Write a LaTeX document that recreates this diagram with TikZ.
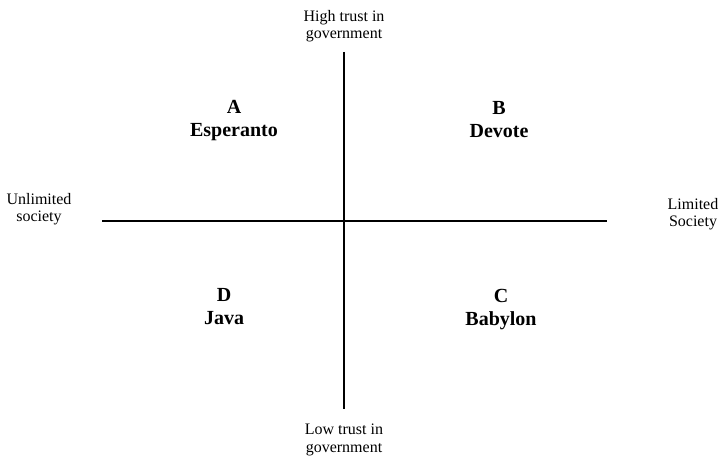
\documentclass[tikz,border=0pt]{standalone}
\usepackage{fontspec}
\setmainfont{Liberation Serif}
\usetikzlibrary{positioning}

\begin{document}
\begin{tikzpicture}[
  x=1pt, y=-1pt,
  axislabel/.style={font=\fontsize{16}{17.5}\selectfont, align=center, inner sep=0pt, anchor=north},
  quadlabel/.style={font=\fontsize{20}{23}\selectfont\bfseries, align=center, inner sep=0pt, anchor=north},
  axis/.style={line width=1.1pt, black}
]
\useasboundingbox (0,0) rectangle (720,457);

% axes
\coordinate (top) at (344,52);
\coordinate (bottom) at (344,409);
\coordinate (left) at (102,221);
\coordinate (right) at (607,221);
\draw[axis] (top) -- (bottom);
\draw[axis] (left) -- (right);

% axis labels
\node[axislabel] (high) at (344,10) {High trust in\\government};
\node[axislabel] (low) at (344,424) {Low trust in\\government};
\node[axislabel] (unlim) at (39,193) {Unlimited\\society};
\node[axislabel] (lim) at (693,198) {Limited\\Society};

% quadrants
\node[quadlabel] (qa) at (234,100) {A\\Esperanto};
\node[quadlabel] (qb) at (499,101) {B\\Devote};
\node[quadlabel] (qd) at (224,288) {D\\Java};
\node[quadlabel] (qc) at (501,289) {C\\Babylon};

\end{tikzpicture}
\end{document}
